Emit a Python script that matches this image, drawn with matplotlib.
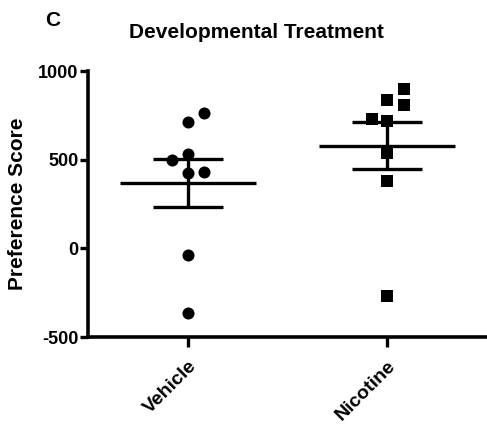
import numpy as np
import matplotlib.pyplot as plt

plt.rcParams['font.family'] = ['Liberation Sans', 'DejaVu Sans']
plt.rcParams['font.weight'] = 'bold'
plt.rcParams['axes.unicode_minus'] = False

groups = ['Vehicle', 'Nicotine']
vehicle = [762, 712, 500, 530, 424, 430, -36, -365]
nicotine = [898, 836, 810, 729, 717, 537, 377, -267]
# horizontal scatter offsets so overlapping points sit side by side
vehicle_dx = [0.08, 0, -0.08, 0, 0, 0.08, 0, 0]
nicotine_dx = [0.085, 0, 0.085, -0.075, 0, 0, 0, 0]
yticks = [-500, 0, 500, 1000]

fig = plt.figure(figsize=(4.87, 4.24), dpi=100)
ax = fig.add_axes([88/487, 87/424, 1 - 88/487, 266/424])

lw = 2.4
for i, (vals, dx, mk) in enumerate([(vehicle, vehicle_dx, 'o'), (nicotine, nicotine_dx, 's')]):
    vals = np.array(vals, dtype=float)
    m = vals.mean()
    sem = vals.std(ddof=1) / np.sqrt(len(vals))
    ax.hlines(m, i - 0.34, i + 0.34, color='black', lw=lw, zorder=2)
    ax.hlines([m - sem, m + sem], i - 0.175, i + 0.175, color='black', lw=lw, zorder=2)
    ax.vlines(i, m - sem, m + sem, color='black', lw=lw, zorder=2)
    ax.scatter(i + np.array(dx), vals, marker=mk, s=75 if mk == 'o' else 65,
               color='black', zorder=3, linewidths=0)

ax.set_xlim(-0.5, 1.5)
ax.set_ylim(-500, 1000)
ax.set_yticks(yticks)
ax.set_xticks(range(len(groups)))
ax.set_xticklabels(groups, rotation=45, ha='right', va='top', rotation_mode='anchor',
                   fontsize=14, fontweight='bold')
ax.tick_params(axis='y', labelsize=13, length=6, width=2.4, pad=1)
ax.tick_params(axis='x', length=7, width=2.4, pad=8)
for s in ['top', 'right']:
    ax.spines[s].set_visible(False)
for s in ['left', 'bottom']:
    ax.spines[s].set_linewidth(2.6)
for t in ax.get_yticklabels():
    t.set_fontweight('bold')

ax.set_ylabel('Preference Score', fontsize=15, fontweight='bold', labelpad=8)
fig.text(256/487, 1 - 32/424, 'Developmental Treatment', ha='center', va='center',
         fontsize=15, fontweight='bold')
fig.text(53/487, 1 - 21/424, 'C', ha='center', va='center', fontsize=15, fontweight='bold')

fig.savefig('out.png', dpi=100)
